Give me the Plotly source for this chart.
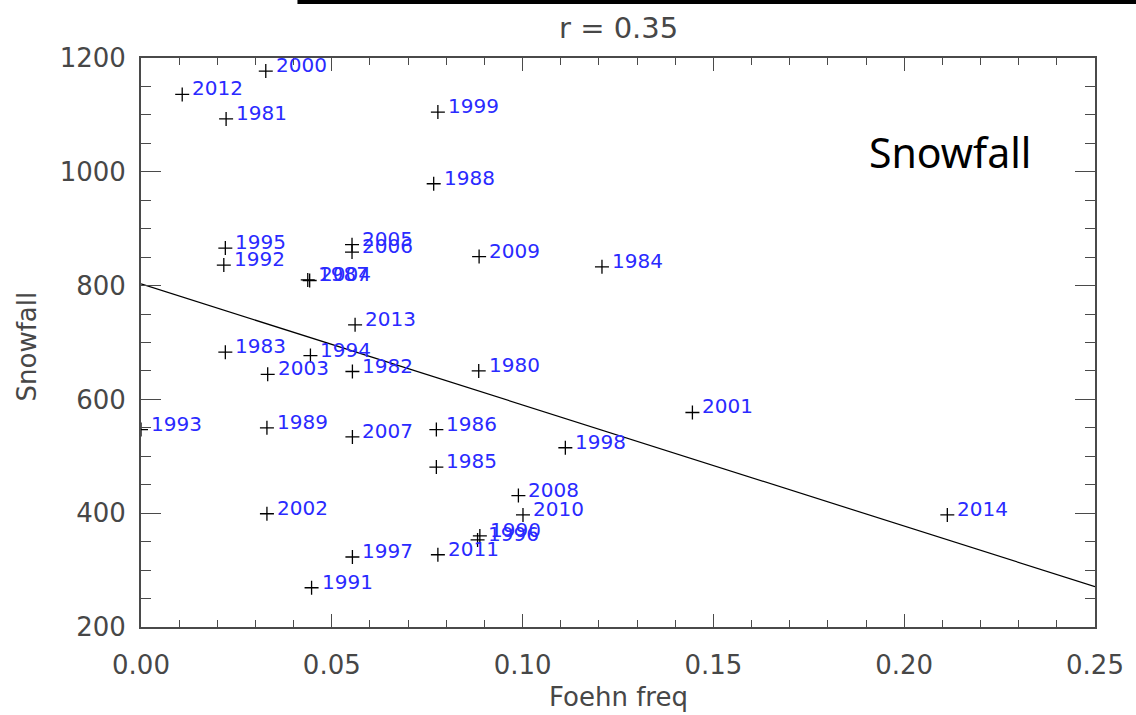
import plotly.graph_objects as go

# Data
years = ["1980", "1981", "1982", "1983", "1984", "1985", "1986", "1987", "1988", "1989",
         "1990", "1991", "1992", "1993", "1994", "1995", "1996", "1997", "1998", "1999",
         "2000", "2001", "2002", "2003", "2004", "2005", "2006", "2007", "2008", "2009",
         "2010", "2011", "2012", "2013", "2014"]
foehn_freq = [0.0885, 0.0223, 0.0554, 0.0221, 0.1208, 0.0774, 0.0774, 0.0437, 0.0767, 0.0330,
              0.0888, 0.0447, 0.0217, 0.0000, 0.0444, 0.0221, 0.0882, 0.0554, 0.1112, 0.0778,
              0.0327, 0.1445, 0.0330, 0.0332, 0.0442, 0.0553, 0.0553, 0.0554, 0.0989, 0.0886,
              0.1001, 0.0778, 0.0108, 0.0561, 0.2113]
snowfall = [650, 1093, 649, 683, 833, 481, 547, 810, 979, 550,
            360, 269, 836, 547, 677, 866, 353, 323, 515, 1105,
            1177, 577, 399, 644, 809, 872, 859, 534, 431, 851,
            397, 327, 1136, 731, 397]

fit_x = [0.0, 0.25]
fit_y = [803, 271]

x_ticks = [0.00, 0.05, 0.10, 0.15, 0.20, 0.25]
x_ticklabels = ["0.00", "0.05", "0.10", "0.15", "0.20", "0.25"]
y_ticks = [200, 400, 600, 800, 1000, 1200]
y_ticklabels = ["200", "400", "600", "800", "1000", "1200"]

title_text = "r = 0.35"
x_title = "Foehn freq"
y_title = "Snowfall"
panel_label = "Snowfall"

axis_color = "#4a4a4a"
label_font = dict(family="DejaVu Sans", size=26, color="#474747")

fig = go.Figure()

fig.add_trace(go.Scatter(
    x=fit_x, y=fit_y, mode="lines",
    line=dict(color="black", width=1.2),
    hoverinfo="skip", showlegend=False,
))

fig.add_trace(go.Scatter(
    x=foehn_freq, y=snowfall, mode="markers",
    marker=dict(symbol="cross-thin", size=10, color="black",
                line=dict(color="black", width=1.3)),
    text=years, showlegend=False,
))

annotations = []
for yr, xv, yv in zip(years, foehn_freq, snowfall):
    annotations.append(dict(
        x=xv, y=yv, xref="x", yref="y", text=yr, showarrow=False,
        xanchor="left", yanchor="middle", xshift=8, yshift=6,
        font=dict(family="DejaVu Sans", size=20, color="#2a2aff"),
    ))

annotations += [
    dict(x=0.5, y=1, xref="paper", yref="paper", text=title_text, showarrow=False,
         xanchor="center", yanchor="middle", yshift=30,
         font=dict(family="DejaVu Sans", size=29, color="#474747")),
    dict(x=0.5, y=0, xref="paper", yref="paper", text=x_title, showarrow=False,
         xanchor="center", yanchor="middle", yshift=-70, font=label_font),
    dict(x=0, y=0.5, xref="paper", yref="paper", text=y_title, showarrow=False,
         xanchor="center", yanchor="middle", xshift=-115, yshift=-4, textangle=-90,
         font=label_font),
    dict(x=0.848, y=0.835, xref="paper", yref="paper", text=panel_label, showarrow=False,
         xanchor="center", yanchor="middle",
         font=dict(family="Noto Sans", size=41, color="black")),
]

fig.update_layout(
    width=1136, height=715,
    margin=dict(l=141, r=31, t=58, b=88),
    paper_bgcolor="white", plot_bgcolor="white",
    annotations=annotations,
    shapes=[dict(type="rect", xref="paper", yref="paper",
                 x0=0.164, x1=1.05, y0=1.095, y1=1.12,
                 fillcolor="black", line=dict(width=0))],
    showlegend=False,
)

fig.update_xaxes(
    range=[0, 0.25], tickvals=x_ticks, ticktext=x_ticklabels,
    showgrid=False, zeroline=False,
    showline=True, linecolor=axis_color, linewidth=2, mirror="allticks",
    ticks="inside", ticklen=13, tickwidth=1.3, tickcolor=axis_color,
    tickfont=label_font, ticklabelstandoff=14,
    minor=dict(dtick=0.01, ticks="inside", ticklen=7, tickwidth=1.3,
               tickcolor=axis_color, showgrid=False),
)
fig.update_yaxes(
    range=[200, 1200], tickvals=y_ticks, ticktext=y_ticklabels,
    showgrid=False, zeroline=False,
    showline=True, linecolor=axis_color, linewidth=2, mirror="allticks",
    ticks="inside", ticklen=20, tickwidth=1.3, tickcolor=axis_color,
    tickfont=label_font, ticklabelstandoff=8,
    minor=dict(dtick=50, ticks="inside", ticklen=10, tickwidth=1.3,
               tickcolor=axis_color, showgrid=False),
)

fig.write_html("out.html")
